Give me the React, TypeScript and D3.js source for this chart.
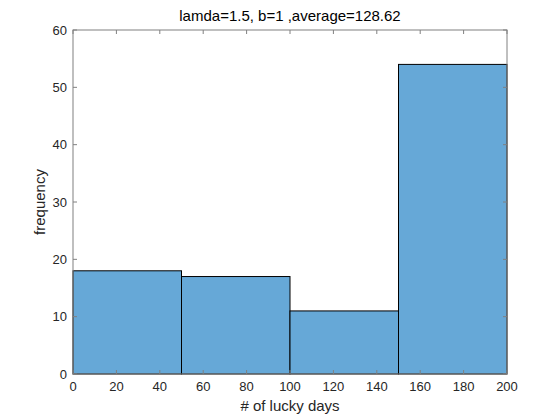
import React from 'react';
import * as d3 from 'd3';

const binEdges = [0, 50, 100, 150, 200];
const counts = [18, 17, 11, 54];
const xTicks = [0, 20, 40, 60, 80, 100, 120, 140, 160, 180, 200];
const yTicks = [0, 10, 20, 30, 40, 50, 60];
const titleText = 'lamda=1.5, b=1 ,average=128.62';
const xLabel = '# of lucky days';
const yLabel = 'frequency';

const W = 560;
const H = 420;
const m = { left: 73, right: 53, top: 30, bottom: 46 };
const font = '"Liberation Sans", Arial, sans-serif';
const axisColor = '#808080';

export default function App() {
  const x = d3.scaleLinear().domain([0, 200]).range([m.left, W - m.right]);
  const y = d3.scaleLinear().domain([0, 60]).range([H - m.bottom, m.top]);
  const bins = counts.map((c, i) => ({ x0: binEdges[i], x1: binEdges[i + 1], c }));
  const tl = 4;

  return (
    <svg width={W} height={H} style={{ position: 'absolute', left: 0, top: 0, background: '#fff' }}>
      <rect x={0} y={0} width={W} height={H} fill="#fff" />
      {bins.map((b, i) => (
        <rect
          key={i}
          x={x(b.x0)}
          y={y(b.c)}
          width={x(b.x1) - x(b.x0)}
          height={y(0) - y(b.c)}
          fill="#66a8d7"
          stroke="#000"
          strokeWidth={1}
        />
      ))}
      {/* box */}
      <rect
        x={x(0)}
        y={y(60)}
        width={x(200) - x(0)}
        height={y(0) - y(60)}
        fill="none"
        stroke={axisColor}
        strokeWidth={1}
      />
      {xTicks.map((t) => (
        <g key={`x${t}`}>
          <line x1={x(t)} x2={x(t)} y1={y(0)} y2={y(0) - tl} stroke={axisColor} />
          <line x1={x(t)} x2={x(t)} y1={y(60)} y2={y(60) + tl} stroke={axisColor} />
          <text x={x(t)} y={y(0) + 17} textAnchor="middle" fontFamily={font} fontSize={13} fill="#262626">
            {t}
          </text>
        </g>
      ))}
      {yTicks.map((t) => (
        <g key={`y${t}`}>
          <line x1={x(0)} x2={x(0) + tl} y1={y(t)} y2={y(t)} stroke={axisColor} />
          <line x1={x(200)} x2={x(200) - tl} y1={y(t)} y2={y(t)} stroke={axisColor} />
          <text x={x(0) - 6} y={y(t) + 4.5} textAnchor="end" fontFamily={font} fontSize={13} fill="#262626">
            {t}
          </text>
        </g>
      ))}
      <text x={(x(0) + x(200)) / 2} y={21} textAnchor="middle" fontFamily={font} fontSize={15} fill="#000">
        {titleText}
      </text>
      <text x={(x(0) + x(200)) / 2} y={411} textAnchor="middle" fontFamily={font} fontSize={15} fill="#262626">
        {xLabel}
      </text>
      <text
        transform={`translate(45,${(y(0) + y(60)) / 2}) rotate(-90)`}
        textAnchor="middle"
        fontFamily={font}
        fontSize={15}
        fill="#262626"
      >
        {yLabel}
      </text>
    </svg>
  );
}
